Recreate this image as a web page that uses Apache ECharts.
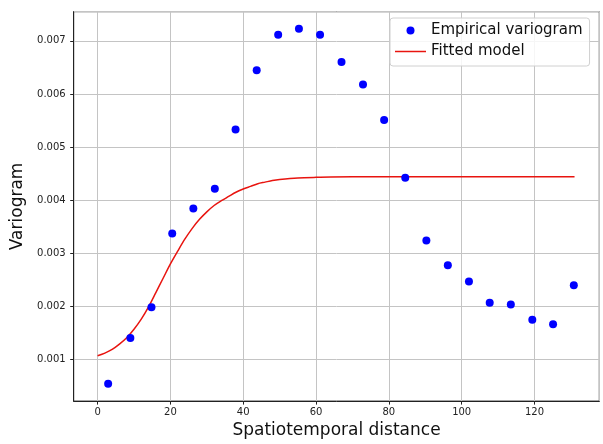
<!DOCTYPE html>
<html>
<head>
<meta charset="utf-8">
<script src="https://cdn.jsdelivr.net/npm/echarts@6/dist/echarts.min.js"></script>
<style>
html,body{margin:0;padding:0;background:#fff;}
#c{width:603px;height:444px;}
</style>
</head>
<body>
<div id="c"></div>
<script>
// Empirical variogram
const empDist = [2.9, 9.0, 14.8, 20.5, 26.3, 32.2, 37.9, 43.7, 49.6, 55.3, 61.1, 67.0, 72.9, 78.7, 84.5, 90.3, 96.2, 102.0, 107.7, 113.5, 119.4, 125.1, 130.8];
const empVal  = [0.000544, 0.001403, 0.001982, 0.003372, 0.003843, 0.004217, 0.005331, 0.006448, 0.007118, 0.007230, 0.007118, 0.006603, 0.006179, 0.005512, 0.004422, 0.003243, 0.002776, 0.002467, 0.002069, 0.002037, 0.001746, 0.001664, 0.002400];
// Fitted model curve
const modelDist = [0, 2, 4, 6, 8, 10, 12, 14, 16, 18, 20, 22, 24, 26, 28, 30, 32, 34, 36, 38, 40, 42, 44, 46, 48, 50, 55, 60, 70, 80, 90, 100, 110, 120, 131];
const modelVal  = [0.00107, 0.00112, 0.00119, 0.00129, 0.00141, 0.00157, 0.00176, 0.00199, 0.00226, 0.00253, 0.00280, 0.00304, 0.00327, 0.00347, 0.00364, 0.00378, 0.00390, 0.00399, 0.00407, 0.00415, 0.00421, 0.00426, 0.00431, 0.00434, 0.00437, 0.00439, 0.00442, 0.00443, 0.00444, 0.00444, 0.00444, 0.00444, 0.00444, 0.00444, 0.00444];
const xRange = [-6.56, 137.8];
const yRange = [0.000216, 0.00755];

const chart = echarts.init(document.getElementById('c'), null, {renderer: 'canvas'});
const font = 'DejaVu Sans';
const onGrid = (v, step) => Math.abs(v / step - Math.round(v / step)) < 1e-6;

chart.setOption({
  animation: false,
  backgroundColor: '#fff',
  grid: {left: 73.7, right: 3.7, top: 11.7, bottom: 38.7, show: true, borderColor: '#222', borderWidth: 1, backgroundColor: 'transparent'},
  legend: {
    left: 390, top: 18,
    orient: 'vertical',
    itemWidth: 31, itemHeight: 8, itemGap: 4, itemTextGap: 11,
    padding: [4, 7, 6, 5],
    borderColor: '#d0d0d0', borderWidth: 1, borderRadius: 3,
    backgroundColor: 'rgba(255,255,255,0.85)',
    textStyle: {fontFamily: font, fontSize: 15, color: '#111', lineHeight: 17},
    data: [
      {name: 'Empirical variogram', icon: 'circle'},
      {name: 'Fitted model', icon: 'path://M0,0 L31,0 L31,1.5 L0,1.5 Z', itemStyle: {color: '#e8140f'}}
    ]
  },
  xAxis: {
    type: 'value', min: xRange[0], max: xRange[1], splitNumber: 7,
    name: 'Spatiotemporal distance', nameLocation: 'middle', nameGap: 17,
    nameTextStyle: {fontFamily: font, fontSize: 17, color: '#111'},
    axisLine: {show: true, onZero: false, lineStyle: {color: '#222', width: 1}},
    axisTick: {show: true, length: 3.5, lineStyle: {color: '#222'}},
    axisLabel: {fontFamily: font, fontSize: 10, color: '#222', margin: 6, showMinLabel: false, showMaxLabel: false,
      formatter: v => onGrid(v, 20) ? String(Math.round(v)) : ''},
    splitLine: {show: true, lineStyle: {color: '#c4c4c4', width: 1}}
  },
  yAxis: {
    type: 'value', min: yRange[0], max: yRange[1], splitNumber: 7,
    name: 'Variogram', nameLocation: 'middle', nameGap: 41, nameRotate: 90,
    nameTextStyle: {fontFamily: font, fontSize: 17, color: '#111'},
    axisLine: {show: true, onZero: false, lineStyle: {color: '#222', width: 1}},
    axisTick: {show: true, length: 3.5, lineStyle: {color: '#222'}},
    axisLabel: {fontFamily: font, fontSize: 10, color: '#222', margin: 8, showMinLabel: false, showMaxLabel: false,
      formatter: v => onGrid(v, 0.001) ? v.toFixed(3) : ''},
    splitLine: {show: true, lineStyle: {color: '#c4c4c4', width: 1}}
  },
  series: [
    {
      name: 'Empirical variogram', type: 'scatter',
      symbol: 'circle', symbolSize: 8,
      itemStyle: {color: '#0000ff', opacity: 1},
      data: empDist.map((d, i) => [d, empVal[i]]),
      z: 3
    },
    {
      name: 'Fitted model', type: 'line',
      symbol: 'none', showSymbol: false, smooth: 0.3,
      lineStyle: {color: '#e8140f', width: 1.5},
      itemStyle: {color: '#e8140f'},
      data: modelDist.map((d, i) => [d, modelVal[i]]),
      z: 2
    }
  ]
});
</script>
</body>
</html>
